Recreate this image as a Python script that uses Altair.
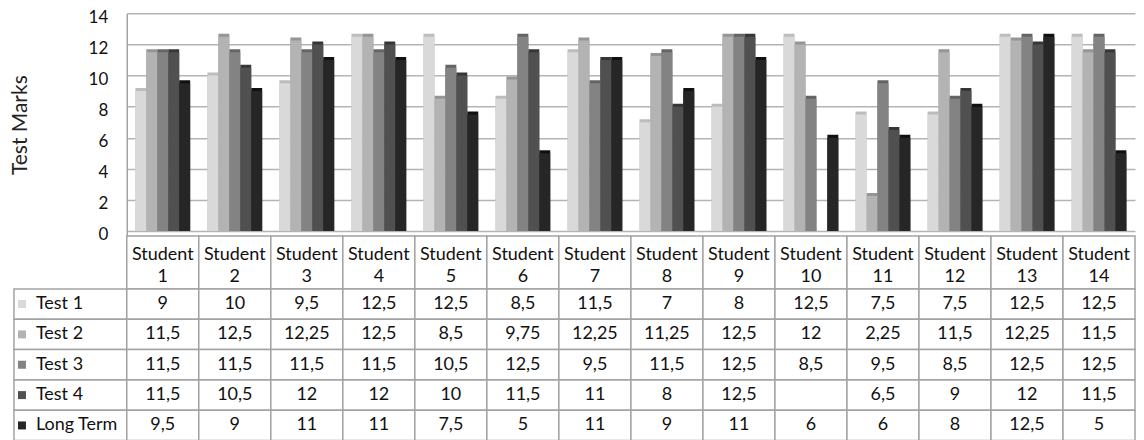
import altair as alt
import pandas as pd

# Marks per student, five series
students = [
    "Student 1", "Student 2", "Student 3", "Student 4", "Student 5",
    "Student 6", "Student 7", "Student 8", "Student 9", "Student 10",
    "Student 11", "Student 12", "Student 13", "Student 14",
]
series_names = ["Test 1", "Test 2", "Test 3", "Test 4", "Long Term"]

test1 = [9, 10, 9.5, 12.5, 12.5, 8.5, 11.5, 7, 8, 12.5, 7.5, 7.5, 12.5, 12.5]
test2 = [11.5, 12.5, 12.25, 12.5, 8.5, 9.75, 12.25, 11.25, 12.5, 12, 2.25, 11.5, 12.25, 11.5]
test3 = [11.5, 11.5, 11.5, 11.5, 10.5, 12.5, 9.5, 11.5, 12.5, 8.5, 9.5, 8.5, 12.5, 12.5]
test4 = [11.5, 10.5, 12, 12, 10, 11.5, 11, 8, 12.5, None, 6.5, 9, 12, 11.5]
long_term = [9.5, 9, 11, 11, 7.5, 5, 11, 9, 11, 6, 6, 8, 12.5, 5]

y_ticks = [0, 2, 4, 6, 8, 10, 12, 14]

# Grey palette: front faces and darker side faces
face_colors = ["#d9d9d9", "#b3b3b3", "#838383", "#505050", "#262626"]
side_colors = ["#bcbcbc", "#959595", "#646464", "#363636", "#101010"]

FONT = "Lato"
FS = 18
TEXT = "#111111"
BORDER = "#a3a3a3"

rows = []
for name, vals, face, side in zip(series_names, [test1, test2, test3, test4, long_term],
                                  face_colors, side_colors):
    for s, v in zip(students, vals):
        rows.append({"student": s, "series": name, "value": v, "face": face, "side": side})
df = pd.DataFrame(rows)

PLOT_W = 1010
LEFT_W = 113
BAR_H = 223
HEAD_H = 53
GRID_H = 152

flat = alt.Scale(paddingInner=0, paddingOuter=0)

# ---- bar chart -------------------------------------------------------------
bar_base = alt.Chart(df).transform_filter("isValid(datum.value)").encode(
    x=alt.X("student:N", sort=students, axis=None,
            scale=alt.Scale(paddingInner=0.24, paddingOuter=0.12)),
    xOffset=alt.XOffset("series:N", sort=series_names, scale=flat),
    y=alt.Y("value:Q",
            scale=alt.Scale(domain=[-0.32, 14], nice=False, zero=False),
            axis=alt.Axis(values=y_ticks, title="Test Marks", grid=True,
                          gridColor="#b4b4b4", gridWidth=1.5,
                          domain=True, domainColor=BORDER, domainWidth=1.5,
                          ticks=False, labelPadding=19, labelOffset=4,
                          labelFont=FONT, labelFontSize=17, labelColor=TEXT,
                          titleFont=FONT, titleFontSize=21, titleFontWeight="normal",
                          titleColor="#222222", titlePadding=58)),
    y2=alt.datum(0),
)
bar_side = bar_base.mark_bar(xOffset=5, yOffset=-3).encode(color=alt.Color("side:N", scale=None))
bar_face = bar_base.mark_bar(xOffset=2).encode(color=alt.Color("face:N", scale=None))
bars = alt.layer(bar_side, bar_face).properties(width=PLOT_W, height=BAR_H)


def spacer(h):
    return alt.Chart(pd.DataFrame({"v": [0]})).mark_point(opacity=0).encode(
        x=alt.value(0), y=alt.value(0)
    ).properties(width=LEFT_W, height=h)


# ---- header row of the data table -----------------------------------------
head_base = alt.Chart(pd.DataFrame({"student": students})).encode(
    x=alt.X("student:N", sort=students, axis=None, scale=flat)
)
head_cells = head_base.mark_rect(fill="white", stroke=BORDER, strokeWidth=1.5).encode(
    y=alt.value(0), y2=alt.value("height")
)
head_text = head_base.mark_text(lineBreak=" ", lineHeight=22, dy=-7, baseline="middle",
                                font=FONT, fontSize=FS, color=TEXT).encode(text="student:N")
header = alt.layer(head_cells, head_text).properties(width=PLOT_W, height=HEAD_H)

# ---- value grid -------------------------------------------------------------
grid_base = alt.Chart(df).encode(
    x=alt.X("student:N", sort=students, axis=None, scale=flat),
    y=alt.Y("series:N", sort=series_names, axis=None, scale=flat),
)
grid_cells = grid_base.mark_rect(fill="white", stroke=BORDER, strokeWidth=1.5)
grid_text = grid_base.transform_filter("isValid(datum.value)").transform_calculate(
    label="replace(toString(datum.value), '.', ',')"
).mark_text(font=FONT, fontSize=FS, color=TEXT).encode(text="label:N")
grid = alt.layer(grid_cells, grid_text).properties(width=PLOT_W, height=GRID_H)

# ---- series key column ------------------------------------------------------
key_base = alt.Chart(pd.DataFrame({"series": series_names, "face": face_colors})).encode(
    y=alt.Y("series:N", sort=series_names, axis=None, scale=flat)
)
key_cells = key_base.mark_rect(fill="white", stroke=BORDER, strokeWidth=1.5).encode(
    x=alt.value(0), x2=alt.value("width")
)
key_swatch = key_base.mark_square(size=64, opacity=1).encode(
    x=alt.value(8), color=alt.Color("face:N", scale=None)
)
key_text = key_base.mark_text(align="left", font=FONT, fontSize=FS, color=TEXT).encode(
    x=alt.value(22), text="series:N"
)
key = alt.layer(key_cells, key_swatch, key_text).properties(width=LEFT_W, height=GRID_H)

chart = alt.concat(
    spacer(BAR_H), bars,
    spacer(HEAD_H), header,
    key, grid,
    columns=2, spacing=0, bounds="flush",
).properties(
    padding={"left": 9, "top": 8, "right": 8, "bottom": 0},
    background="white",
).configure_view(stroke=None)

chart.save("out.html", embed_options={"renderer": "svg", "actions": False})
